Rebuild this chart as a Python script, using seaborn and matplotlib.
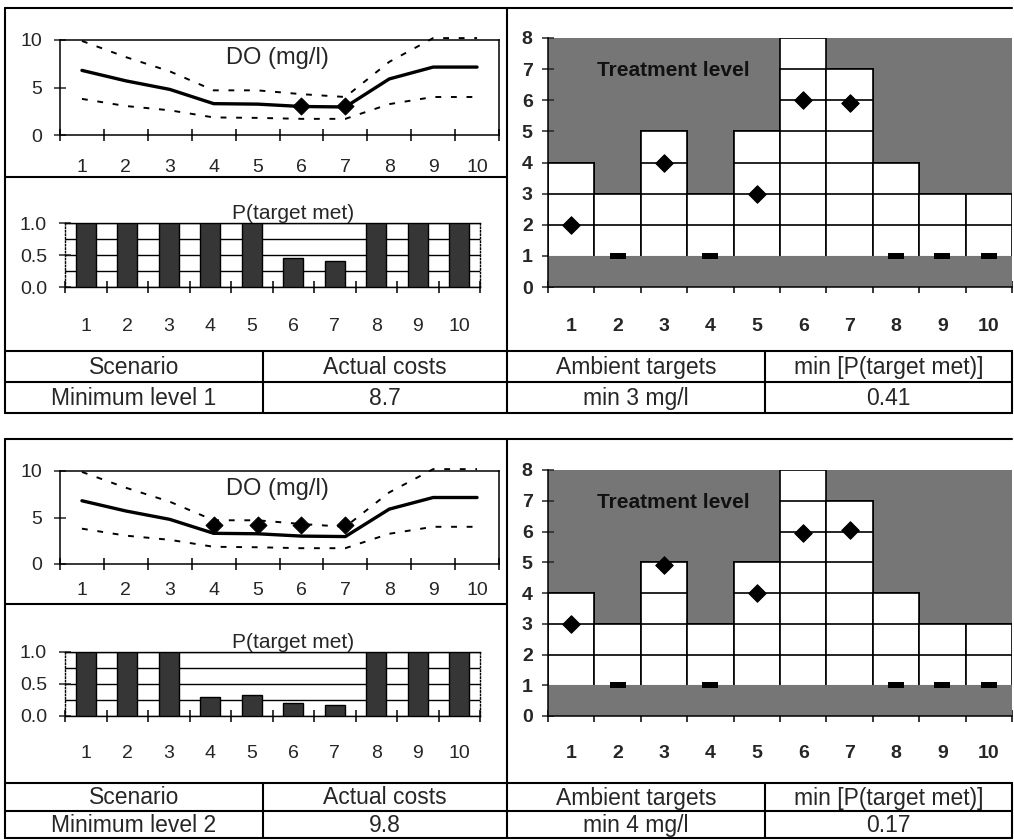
import numpy as np
import pandas as pd
import matplotlib
matplotlib.use("Agg")
import matplotlib.pyplot as plt
import seaborn as sns

# ---------------- data ----------------
sites = [1, 2, 3, 4, 5, 6, 7, 8, 9, 10]
site_labels = [str(s) for s in sites]

do_mean = [6.8, 5.7, 4.8, 3.3, 3.25, 3.0, 2.95, 5.9, 7.15, 7.15]
do_upper = [9.9, 8.2, 6.7, 4.7, 4.7, 4.3, 4.0, 7.7, 10.2, 10.2]
do_lower = [3.8, 3.05, 2.6, 1.85, 1.8, 1.7, 1.7, 3.25, 4.0, 4.0]

target_sites_1 = [6, 7]
target_do_1 = [3.05, 3.05]
target_sites_2 = [4, 5, 6, 7]
target_do_2 = [4.15, 4.15, 4.15, 4.15]

p_met_1 = [1.0, 1.0, 1.0, 1.0, 1.0, 0.45, 0.41, 1.0, 1.0, 1.0]
p_met_2 = [1.0, 1.0, 1.0, 0.29, 0.33, 0.21, 0.17, 1.0, 1.0, 1.0]

treat_upper = [4, 3, 5, 3, 5, 8, 7, 4, 3, 3]
treat_lower = [1, 1, 1, 1, 1, 1, 1, 1, 1, 1]
treat_level_1 = [2, 1, 4, 1, 3, 6, 5.9, 1, 1, 1]
treat_level_2 = [3, 1, 4.9, 1, 4, 5.95, 6.05, 1, 1, 1]

table_header = ["Scenario", "Actual costs", "Ambient targets", "min [P(target met)]"]
scenario_names = ["Minimum level 1", "Minimum level 2"]
actual_costs = ["8.7", "9.8"]
ambient_targets = ["min 3 mg/l", "min 4 mg/l"]
min_p = ["0.41", "0.17"]

# ---------------- style ----------------
sns.set_theme(style="white")
plt.rcParams["font.family"] = ["Liberation Sans", "DejaVu Sans"]
plt.rcParams["axes.linewidth"] = 1.1

W, H = 1014, 840
fig = plt.figure(figsize=(W / 100, H / 100), dpi=100)
fig.patch.set_facecolor("white")

GRAY = "#767676"
DARK = "#363636"
TICK_FS = 14
LW = 1.5

def pax(x0, y0, x1, y1, **kw):
    return fig.add_axes([x0 / W, 1 - y1 / H, (x1 - x0) / W, (y1 - y0) / H], **kw)

def cat_xaxis(ax, pad, weight="normal"):
    ax.set_xlim(0.5, 10.5)
    ax.set_xticks(np.arange(0.5, 11.0, 1.0))
    ax.set_xticklabels([])
    ax.set_xticks(sites, minor=True)
    ax.set_xticklabels(site_labels, minor=True, fontsize=TICK_FS, fontweight=weight)
    ax.tick_params(axis="x", which="major", direction="inout", length=8, width=1.1,
                   bottom=True, color="black")
    ax.tick_params(axis="x", which="minor", length=0, pad=pad, bottom=True)
    ax.set_xlabel("")
    ax.set_ylabel("")

dash_marker = [(-1.0, -0.32), (1.0, -0.32), (1.0, 0.32), (-1.0, 0.32), (-1.0, -0.32)]

blocks = [
    dict(top=8, sep=177, do=(60, 40, 499, 135), do_pad=17, p=(65, 223, 480, 287), p_pad=22,
         tr=(548, 38, 1012, 287), tr_pad=22, table=(351, 382, 413),
         tsites=target_sites_1, tdo=target_do_1, pmet=p_met_1, tlev=treat_level_1),
    dict(top=439, sep=604, do=(60, 471, 499, 564), do_pad=13, p=(65, 652, 480, 716), p_pad=21,
         tr=(548, 470, 1012, 716), tr_pad=21, table=(783, 811, 838),
         tsites=target_sites_2, tdo=target_do_2, pmet=p_met_2, tlev=treat_level_2),
]

# overlay for borders and table
ov = fig.add_axes([0, 0, 1, 1], zorder=-5)
ov.set_xlim(0, W)
ov.set_ylim(H, 0)
ov.axis("off")

col_x = [5, 263, 507, 765, 1012]

for bi, b in enumerate(blocks):
    # ---------- DO chart ----------
    ax = pax(*b["do"])
    df = pd.DataFrame({"site": sites, "mean": do_mean, "upper": do_upper, "lower": do_lower})
    sns.lineplot(data=df, x="site", y="upper", ax=ax, color="black", linewidth=1.4,
                 linestyle=(0, (3, 5)), clip_on=False)
    sns.lineplot(data=df, x="site", y="lower", ax=ax, color="black", linewidth=1.4,
                 linestyle=(0, (3, 5)))
    sns.lineplot(data=df, x="site", y="mean", ax=ax, color="black", linewidth=2.4)
    sns.scatterplot(x=b["tsites"], y=b["tdo"], ax=ax, marker="D", s=75, color="black",
                    edgecolor="black", zorder=5)
    ax.set_ylim(0, 10)
    cat_xaxis(ax, b["do_pad"])
    ax.set_yticks([0, 5, 10])
    ax.set_yticklabels(["0", "5", "10"], fontsize=TICK_FS)
    ax.tick_params(axis="y", direction="inout", length=8, width=1.1, pad=9, left=True)
    for s in ax.spines.values():
        s.set_color("black")
        s.set_linewidth(1.1)
    ax.text(5.45, 8.1, "DO (mg/l)", fontsize=17, ha="center", va="center")

    # ---------- P(target met) ----------
    ax = pax(*b["p"])
    sns.barplot(x=sites, y=b["pmet"], ax=ax, native_scale=True, width=0.48, color=DARK,
                saturation=1, edgecolor="black", linewidth=1.0, zorder=3)
    ax.set_ylim(0, 1)
    cat_xaxis(ax, b["p_pad"])
    ax.set_yticks([0, 0.5, 1.0])
    ax.set_yticklabels(["0.0", "0.5", "1.0"], fontsize=TICK_FS)
    ax.set_yticks([0.25, 0.75], minor=True)
    ax.tick_params(axis="y", which="major", direction="inout", length=8, width=1.1, pad=9, left=True)
    ax.tick_params(axis="y", which="minor", length=0)
    ax.grid(axis="y", which="both", color="black", linewidth=1.0)
    ax.grid(axis="x", visible=False)
    ax.set_axisbelow(True)
    for k, s in ax.spines.items():
        s.set_color("black")
        s.set_linewidth(1.0)
    ax.spines["left"].set_linestyle((0, (1, 1.5)))
    ax.spines["right"].set_linestyle((0, (1, 1.5)))
    ax.text(0.55, 1.0, "P(target met)", transform=ax.transAxes, fontsize=15,
            ha="center", va="bottom")

    # ---------- Treatment level ----------
    ax = pax(*b["tr"])
    ax.set_facecolor(GRAY)
    top_level = int(max(treat_upper))
    low_level = int(min(treat_lower))
    for k in range(top_level, low_level, -1):
        sns.barplot(x=sites, y=np.minimum(treat_upper, k), ax=ax, native_scale=True, width=1.0,
                    color="white", saturation=1, edgecolor="black", linewidth=1.2)
    sns.barplot(x=sites, y=treat_lower, ax=ax, native_scale=True, width=1.0, color=GRAY,
                saturation=1, edgecolor=GRAY, linewidth=0.8)
    lev = np.array(b["tlev"], dtype=float)
    low = np.array(treat_lower, dtype=float)
    st = np.array(sites)
    is_min = lev <= low
    sns.scatterplot(x=st[~is_min], y=lev[~is_min], ax=ax, marker="D", s=80, color="black",
                    edgecolor="black", zorder=6)
    sns.scatterplot(x=st[is_min], y=lev[is_min], ax=ax, marker=dash_marker, s=130,
                    color="black", edgecolor="black", linewidth=0, zorder=6)
    ax.set_ylim(0, 8)
    cat_xaxis(ax, b["tr_pad"], weight="bold")
    ax.set_yticks(range(0, 9))
    ax.set_yticklabels([str(v) for v in range(0, 9)], fontsize=TICK_FS, fontweight="bold")
    ax.tick_params(axis="y", direction="inout", length=8, width=1.1, pad=7, left=True)
    ax.spines["top"].set_visible(False)
    ax.spines["right"].set_visible(False)
    for k in ["left", "bottom"]:
        ax.spines[k].set_color("black")
        ax.spines[k].set_linewidth(1.1)
    ax.text(3.2, 6.95, "Treatment level", fontsize=15, fontweight="bold",
            ha="center", va="center", color="#111111")

    # ---------- borders ----------
    t0, t1, t2 = b["table"]
    ov.plot([5, 1012], [b["top"], b["top"]], color="black", lw=LW)
    ov.plot([5, 5], [b["top"], t0], color="black", lw=LW)
    ov.plot([507, 507], [b["top"], t0], color="black", lw=LW)
    ov.plot([5, 507], [b["sep"], b["sep"]], color="black", lw=LW)

    # ---------- table ----------
    for yy in (t0, t1, t2):
        ov.plot([5, 1012], [yy, yy], color="black", lw=LW)
    for xx in col_x:
        ov.plot([xx, xx], [t0, t2], color="black", lw=LW)
    row_vals = [scenario_names[bi], actual_costs[bi], ambient_targets[bi], min_p[bi]]
    for ci in range(4):
        cx = (col_x[ci] + col_x[ci + 1]) / 2
        ov.text(cx, (t0 + t1) / 2 + 1, table_header[ci], fontsize=16.5, ha="center", va="center")
        ov.text(cx, (t1 + t2) / 2 + 1, row_vals[ci], fontsize=16.5, ha="center", va="center")

fig.savefig("out.png", dpi=100)
